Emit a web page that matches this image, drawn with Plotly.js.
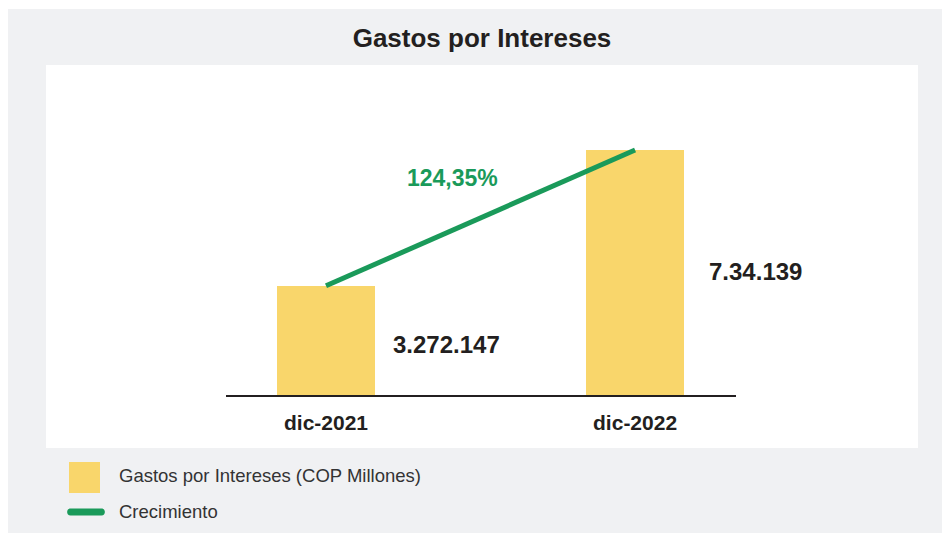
<!DOCTYPE html>
<html>
<head>
<meta charset="utf-8">
<script src="https://cdn.plot.ly/plotly-3.0.1.min.js"></script>
<style>
  html, body { margin: 0; padding: 0; background: #ffffff; }
  #chart { position: absolute; left: 8px; top: 9px; width: 934px; height: 524px; }
</style>
</head>
<body>
<div id="chart"></div>
<script>
// ---- data ----
const categories = ['dic-2021', 'dic-2022'];
const gastos = [3272147, 7341390];
const valueLabels = ['3.272.147', '7.34.139'];
const growthLabel = '124,35%';
const seriesNames = ['Gastos por Intereses (COP Millones)', 'Crecimiento'];
const chartTitle = 'Gastos por Intereses';

// ---- styles ----
const YELLOW = '#f9d66b';
const GREEN = '#1a9a5a';
const DARK = '#231f20';
const GRAY = '#f0f1f3';
const FONT = 'Liberation Sans, Arial, Helvetica, sans-serif';

const barTrace = {
  type: 'bar',
  x: categories,
  y: gastos,
  name: seriesNames[0],
  marker: { color: YELLOW },
  width: 0.317,
  hoverinfo: 'skip'
};

const lineTrace = {
  type: 'scatter',
  mode: 'lines',
  x: categories,
  y: gastos,
  name: seriesNames[1],
  line: { color: GREEN, width: 5 },
  hoverinfo: 'skip'
};

const labelYShift = [-4, 1];
const annotations = [];
categories.forEach((c, i) => {
  annotations.push({
    x: c, y: gastos[i] / 2, xref: 'x', yref: 'y',
    text: valueLabels[i], showarrow: false,
    xanchor: 'center', yanchor: 'middle', xshift: 120, yshift: labelYShift[i],
    font: { family: FONT, size: 24, color: DARK, weight: 'bold' }
  });
});
annotations.push({
  x: 0.5, y: (gastos[0] + gastos[1]) / 2, xref: 'x', yref: 'y',
  text: growthLabel, showarrow: false,
  xanchor: 'center', yanchor: 'middle', xshift: -28, yshift: 40,
  font: { family: FONT, size: 23, color: GREEN, weight: 'bold' }
});
// manual legend texts
annotations.push({
  x: 0.0818, y: -0.0718, xref: 'paper', yref: 'paper',
  text: seriesNames[0], showarrow: false, xanchor: 'left', yanchor: 'middle',
  font: { family: FONT, size: 18.5, color: '#333333' }
});
annotations.push({
  x: 0.0818, y: -0.1671, xref: 'paper', yref: 'paper',
  text: seriesNames[1], showarrow: false, xanchor: 'left', yanchor: 'middle',
  font: { family: FONT, size: 18.5, color: '#333333' }
});

const shapes = [
  // white plot panel
  { type: 'rect', xref: 'paper', yref: 'paper', x0: 0, x1: 1, y0: 0, y1: 1,
    fillcolor: '#ffffff', line: { width: 0 }, layer: 'below' },
  // legend swatch (bar)
  { type: 'rect', xref: 'paper', yref: 'paper', x0: 0.02638, x1: 0.06193, y0: -0.1175, y1: -0.03655,
    fillcolor: YELLOW, line: { width: 0 } },
  // legend swatch (line, rounded ends)
  { type: 'path', xref: 'paper', yref: 'paper', xsizemode: 'pixel', ysizemode: 'pixel',
    xanchor: 0.04587, yanchor: -0.1671,
    path: 'M -15.5,3.5 L 15.5,3.5 C 20,3.5 20,-3.5 15.5,-3.5 L -15.5,-3.5 C -20,-3.5 -20,3.5 -15.5,3.5 Z',
    fillcolor: GREEN, line: { width: 0 } }
];

const layout = {
  width: 934, height: 524,
  margin: { l: 38, r: 24, t: 56, b: 85, pad: 0 },
  paper_bgcolor: GRAY,
  plot_bgcolor: 'rgba(0,0,0,0)',
  showlegend: false,
  title: {
    text: chartTitle,
    x: 0.5, xref: 'paper', xanchor: 'center',
    y: 1 - (38 - 9) / 524, yref: 'container', yanchor: 'middle',
    font: { family: FONT, size: 26, color: DARK, weight: 'bold' }
  },
  xaxis: {
    type: 'category',
    domain: [0.2064, 0.7918],
    range: [-0.3236, 1.328],
    showline: true, linecolor: DARK, linewidth: 2,
    showgrid: false, zeroline: false, ticks: '',
    tickfont: { family: FONT, size: 21, color: DARK, weight: 'bold' },
    ticklabelstandoff: 8,
    fixedrange: true
  },
  yaxis: {
    domain: [0.1384, 1],
    range: [0, 9889000],
    visible: false,
    showgrid: false, zeroline: false,
    fixedrange: true
  },
  bargap: 0,
  annotations: annotations,
  shapes: shapes,
  font: { family: FONT }
};

Plotly.newPlot('chart', [barTrace, lineTrace], layout, { displayModeBar: false, staticPlot: true });
</script>
</body>
</html>
